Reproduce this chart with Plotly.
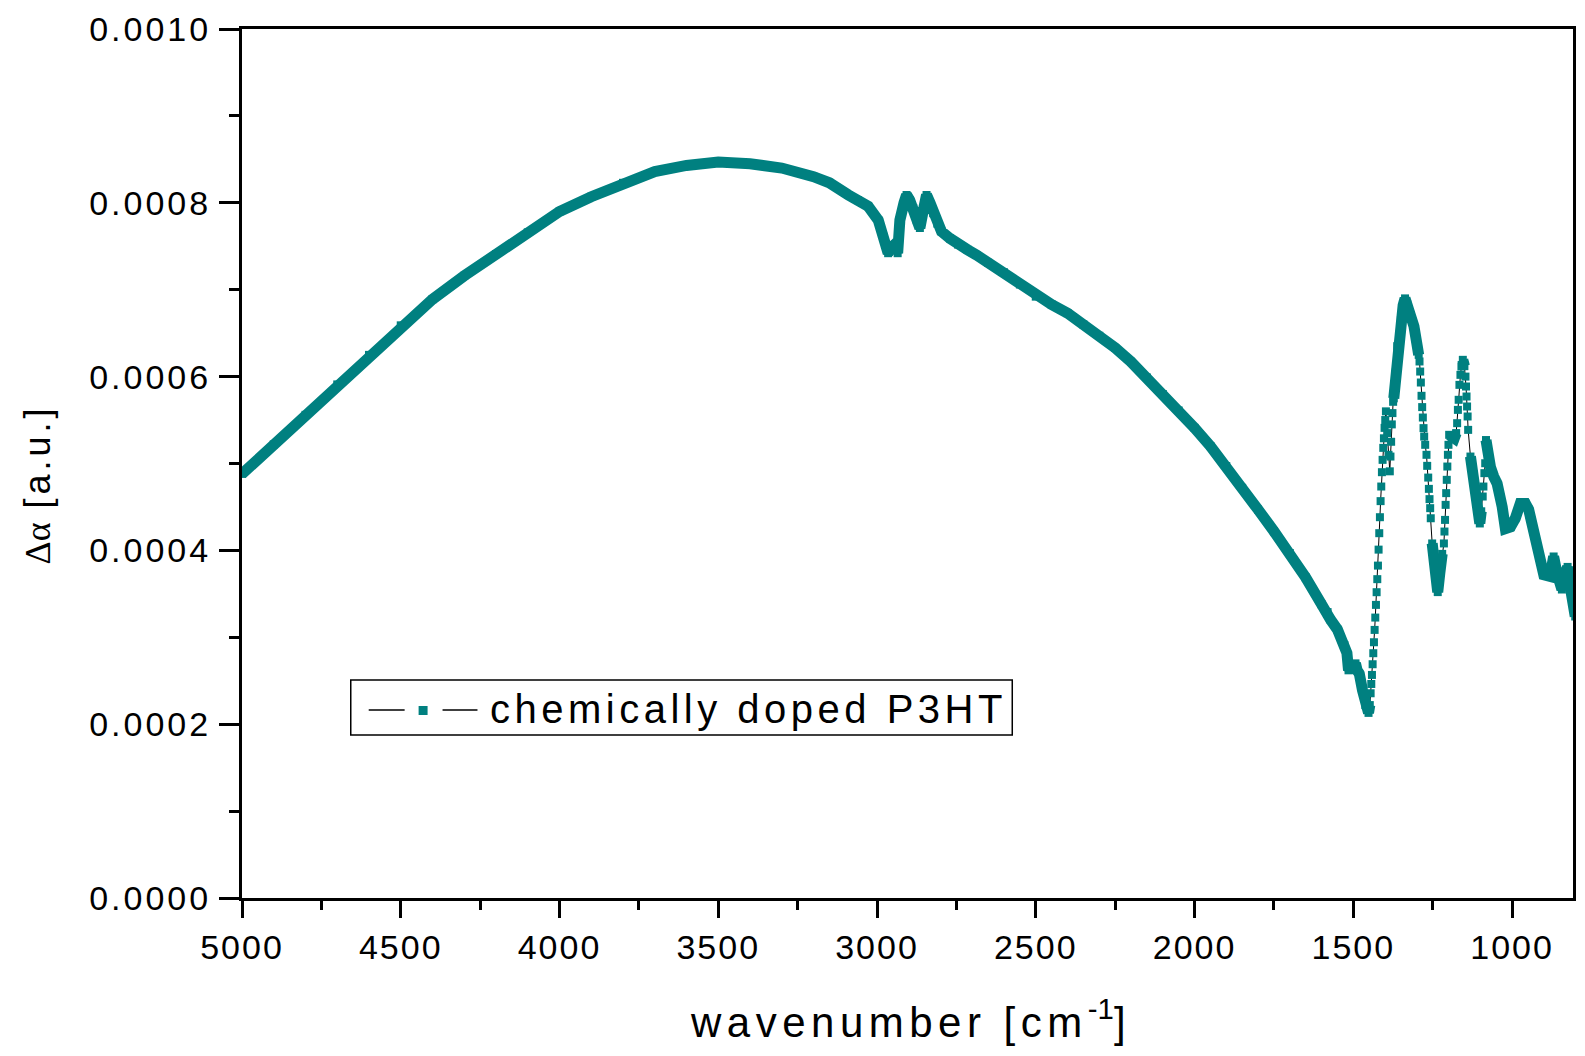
import plotly.graph_objects as go

# ---------------- data ----------------
wavenumber = [
    5000, 4900, 4800, 4700, 4600, 4500, 4400, 4300, 4200, 4100, 4000, 3900, 3800, 3700,
    3600, 3500, 3400, 3300, 3200, 3150, 3090, 3060, 3028, 2996, 2980, 2965, 2955, 2944,
    2935, 2928, 2915, 2907, 2897, 2886, 2875, 2865, 2855, 2844, 2833, 2823, 2810, 2797,
    2770, 2745, 2715, 2687, 2650, 2600, 2550, 2500, 2450, 2400, 2350, 2300, 2250, 2200,
    2150, 2100, 2050, 2000, 1950, 1900, 1850, 1800, 1750, 1700, 1650, 1600, 1581, 1571,
    1550, 1528, 1520, 1515, 1505, 1493, 1488, 1481, 1471, 1462, 1452, 1448,
    1445.4, 1443.3, 1441.2, 1439.1, 1437.0, 1434.9, 1432.8, 1430.7, 1428.6, 1426.5,
    1424.4, 1422.3, 1420.3, 1418.2, 1416.1, 1414.0, 1411.9, 1409.8, 1407.7, 1405.6,
    1403.5, 1401.4, 1399.3, 1397.2, 1393, 1389, 1385, 1382.9, 1380.8, 1378.7, 1376.6,
    1374.5, 1372.5, 1366, 1361.6, 1350, 1343, 1337, 1330, 1320, 1309, 1298.5, 1294,
    1291.4, 1289.3, 1287.2, 1285.1, 1283.0, 1280.9, 1278.8, 1276.7, 1273.5, 1269.4,
    1267.2, 1264.0, 1261.9, 1259.9, 1257.8, 1256.0,
    1251.5, 1244.2, 1238, 1234, 1227.4, 1220,
    1214.6, 1212.8, 1211.0, 1209.2, 1207.4, 1205.6, 1203.8, 1202.0, 1200.2,
    1198, 1190, 1182, 1176,
    1172.9, 1170.5, 1168.1, 1165.7, 1162.5, 1159.4,
    1155, 1150,
    1146.7, 1145.0, 1143.3, 1141.6, 1139.9, 1138.2,
    1131, 1120, 1115, 1104.6, 1101.5, 1097,
    1092.4, 1090.2, 1087.1, 1084.5,
    1082, 1076, 1068, 1057.6, 1047, 1031, 1021, 1005, 989.6, 974, 958, 947.6, 931.9,
    916, 900, 880, 869, 858.6, 843, 832.5, 825, 816.7, 801,
]

# delta alpha, in units of 1e-3 a.u.
delta_alpha_milli = [
    0.488, 0.522, 0.556, 0.591, 0.625, 0.659, 0.689, 0.716, 0.741, 0.766, 0.790, 0.807, 0.823, 0.836,
    0.843, 0.847, 0.845, 0.840, 0.830, 0.823, 0.809, 0.803, 0.796, 0.780, 0.761, 0.742, 0.748, 0.752,
    0.742, 0.780, 0.800, 0.809, 0.803, 0.794, 0.780, 0.771, 0.790, 0.809, 0.800, 0.788, 0.776, 0.767,
    0.759, 0.752, 0.746, 0.740, 0.731, 0.720, 0.706, 0.692, 0.683, 0.673, 0.660, 0.647, 0.633, 0.617,
    0.599, 0.580, 0.561, 0.541, 0.520, 0.497, 0.472, 0.447, 0.422, 0.397, 0.369, 0.338, 0.329, 0.320,
    0.309, 0.291, 0.282, 0.262, 0.268, 0.270, 0.262, 0.258, 0.239, 0.222, 0.213, 0.222,
    0.2356, 0.2463, 0.2567, 0.2690, 0.2817, 0.2943, 0.3085, 0.3227, 0.3373, 0.3519,
    0.3669, 0.3825, 0.4009, 0.4198, 0.4382, 0.4567, 0.4735, 0.4900, 0.5042, 0.518,
    0.529, 0.541, 0.550, 0.560, 0.535, 0.510, 0.491, 0.508, 0.525, 0.545, 0.558,
    0.571, 0.575, 0.605, 0.635, 0.665, 0.682, 0.690, 0.683, 0.671, 0.658, 0.635, 0.625,
    0.6174, 0.6058, 0.5932, 0.5779, 0.5649, 0.5529, 0.5407, 0.5310, 0.5215, 0.5100,
    0.4973, 0.4838, 0.4708, 0.4590, 0.4486, 0.4370,
    0.408, 0.381, 0.362, 0.352, 0.374, 0.396,
    0.408, 0.4217, 0.4351, 0.4524, 0.4659, 0.4812, 0.4965, 0.510, 0.5215,
    0.533, 0.530, 0.529, 0.535,
    0.5464, 0.5617, 0.5733, 0.5905, 0.602, 0.6116,
    0.6193, 0.612,
    0.600, 0.5886, 0.5771, 0.5656, 0.5541, 0.5387,
    0.508, 0.477, 0.462, 0.443, 0.431, 0.445,
    0.462, 0.4735, 0.4889, 0.5003,
    0.527, 0.510, 0.496, 0.485, 0.477, 0.450, 0.425, 0.427, 0.437, 0.454, 0.454, 0.447, 0.424,
    0.397, 0.372, 0.370, 0.393, 0.374, 0.355, 0.374, 0.381, 0.358, 0.324,
]

# wavenumber intervals where the individual data squares are visible (steep flanks)
sparse_intervals = [(1446, 1373), (1292, 1255.5), (1215, 1199.5),
                    (1174, 1158), (1147, 1138), (1093, 1084)]

x_tick_values = [5000, 4500, 4000, 3500, 3000, 2500, 2000, 1500, 1000]
x_tick_labels = ["5000", "4500", "4000", "3500", "3000", "2500", "2000", "1500", "1000"]
y_tick_values = [0.0, 0.0002, 0.0004, 0.0006, 0.0008, 0.0010]
y_tick_labels = ["0.0000", "0.0002", "0.0004", "0.0006", "0.0008", "0.0010"]

series_name = "chemically doped P3HT"

# ---------------- styling ----------------
TEAL = "#008080"
FONT = "Liberation Sans, Arial, sans-serif"
W, H = 1585, 1056
ML, MR, MT, MB = 242, 9, 29, 158
PW, PH = W - ML - MR, H - MT - MB


def spaced(text, ls):
    return f'<span style="letter-spacing:{ls}px">{text}</span>'


def px_x(p):
    return (p - ML) / PW


def px_y(p):
    return (H - MB - p) / PH


delta_alpha = [v * 1e-3 for v in delta_alpha_milli]


def in_sparse(w):
    return any(lo <= w <= hi for hi, lo in sparse_intervals)


dense_y = [None if in_sparse(w) else v for w, v in zip(wavenumber, delta_alpha)]

fig = go.Figure()
fig.add_trace(go.Scatter(
    x=wavenumber, y=delta_alpha, mode="lines+markers", name=series_name,
    line=dict(color="black", width=1),
    marker=dict(symbol="square", size=8, color=TEAL, line=dict(width=0)),
    showlegend=False,
))
fig.add_trace(go.Scatter(
    x=wavenumber, y=dense_y, mode="lines", connectgaps=False,
    line=dict(color=TEAL, width=11), showlegend=False, hoverinfo="skip",
))

axis_common = dict(
    showline=True, linecolor="black", linewidth=3, mirror=True,
    ticks="outside", tickwidth=3, tickcolor="black",
    showgrid=False, zeroline=False,
    tickfont=dict(family=FONT, size=34, color="black"),
)

fig.update_xaxes(
    range=[5000, 808], tickmode="array", tickvals=x_tick_values,
    ticktext=[spaced(t, 2) for t in x_tick_labels], ticklen=17,
    minor=dict(ticks="outside", ticklen=9, tickwidth=3, tickcolor="black",
               tickmode="linear", tick0=0, dtick=250, showgrid=False),
    ticklabelstandoff=0,
    **axis_common,
)
fig.update_yaxes(
    range=[0, 0.001], tickmode="array", tickvals=y_tick_values,
    ticktext=[spaced(t, 3) for t in y_tick_labels], ticklen=20,
    minor=dict(ticks="outside", ticklen=10, tickwidth=3, tickcolor="black",
               tickmode="linear", tick0=0, dtick=0.0001, showgrid=False),
    ticklabelstandoff=1,
    **axis_common,
)

# legend drawn by hand (box, line - square - line, label)
shapes = [
    dict(type="rect", xref="paper", yref="paper", x0=px_x(351), x1=px_x(1014),
         y0=px_y(735), y1=px_y(680), line=dict(color="black", width=1.5),
         fillcolor="white", layer="above"),
    dict(type="line", xref="paper", yref="paper", x0=px_x(369), x1=px_x(405),
         y0=px_y(710), y1=px_y(710), line=dict(color="black", width=1.5), layer="above"),
    dict(type="line", xref="paper", yref="paper", x0=px_x(443), x1=px_x(478),
         y0=px_y(710), y1=px_y(710), line=dict(color="black", width=1.5), layer="above"),
    dict(type="rect", xref="paper", yref="paper", x0=px_x(419), x1=px_x(428),
         y0=px_y(715), y1=px_y(706), line=dict(width=0), fillcolor=TEAL, layer="above"),
]

annotations = [
    dict(text=spaced(series_name, 4.5), xref="paper", yref="paper",
         x=px_x(489), y=px_y(709), xanchor="left", yanchor="middle", showarrow=False,
         font=dict(family=FONT, size=40, color="black")),
    dict(text=spaced("wavenumber [cm", 5.5) + "<sup>-1</sup>]", xref="paper", yref="paper",
         x=px_x(910), y=px_y(1019), xanchor="center", yanchor="middle", showarrow=False,
         font=dict(family=FONT, size=42, color="black")),
    dict(text='<span style="font-family:Liberation Serif">Δα</span>' + spaced(" [a.u.]", 4),
         xref="paper", yref="paper", x=px_x(37), y=px_y(484), xanchor="center",
         yanchor="middle", textangle=-90, showarrow=False,
         font=dict(family=FONT, size=36, color="black")),
]

fig.update_layout(
    width=W, height=H, margin=dict(l=ML, r=MR, t=MT, b=MB),
    paper_bgcolor="white", plot_bgcolor="white",
    shapes=shapes, annotations=annotations, showlegend=False,
)

fig.write_html("out.html")
